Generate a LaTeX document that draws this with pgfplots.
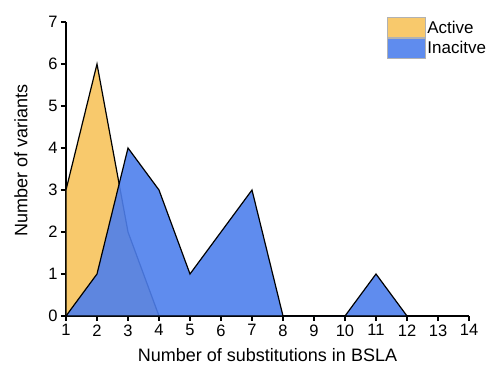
\documentclass[border=0pt]{standalone}
\usepackage{fontspec}
\setmainfont{Liberation Sans}
\usepackage{pgfplots}
\pgfplotsset{compat=1.18}
\definecolor{actcol}{HTML}{F8C96C}
\definecolor{inacol}{HTML}{4E7FEC}
\begin{document}
\begin{tikzpicture}
\begin{axis}[
  scale only axis,
  width=403bp, height=294bp,
  xmin=1, xmax=14, ymin=0, ymax=7,
  axis x line*=bottom, axis y line*=left,
  axis line style={black, line width=1.4bp, -},
  xtick={1,...,14}, ytick={0,...,7},
  tick align=outside,
  major tick length=5bp,
  tick style={black, line width=1.2bp},
  /pgf/number format/assume math mode=true,
  tick label style={font=\fontsize{16.5bp}{19bp}\selectfont},
  xlabel={Number of substitutions in BSLA},
  ylabel={Number of variants},
  label style={font=\fontsize{18bp}{21bp}\selectfont},
  xlabel style={at={(axis description cs:0.5,0)}, anchor=center, yshift=-39bp},
  ylabel style={at={(axis description cs:0,0.5)}, anchor=center, yshift=45bp, xshift=9bp},
  legend style={at={(axis description cs:0.795,1.017)}, anchor=north west, draw=none, fill=none,
     inner sep=0pt, row sep=0pt, font=\fontsize{17bp}{19bp}\selectfont,
     /tikz/every even column/.append style={column sep=2bp}},
  legend cell align=left,
  legend image code/.code={\fill[#1,draw=gray!60, line width=0.8bp] (0bp,-10bp) rectangle (38bp,10bp);},
  clip=false,
]
\addplot[fill=actcol, draw=black, line width=1.2bp] coordinates {
(1,0) (1,3) (2,6) (3,2) (4,0)} -- cycle;
\addlegendentry{Active}
\addplot[fill=inacol, fill opacity=0.9, draw=black, line width=1.2bp] coordinates {
(1,0) (2,1) (3,4) (4,3) (5,1) (6,2) (7,3) (8,0) (9,0) (10,0) (11,1) (12,0)} -- cycle;
\addlegendentry{Inacitve}
\coordinate (o) at (rel axis cs:0,0);
\end{axis}
\path (o) ++(-66bp,-56bp) rectangle ++(492bp,372bp);
\end{tikzpicture}
\end{document}
